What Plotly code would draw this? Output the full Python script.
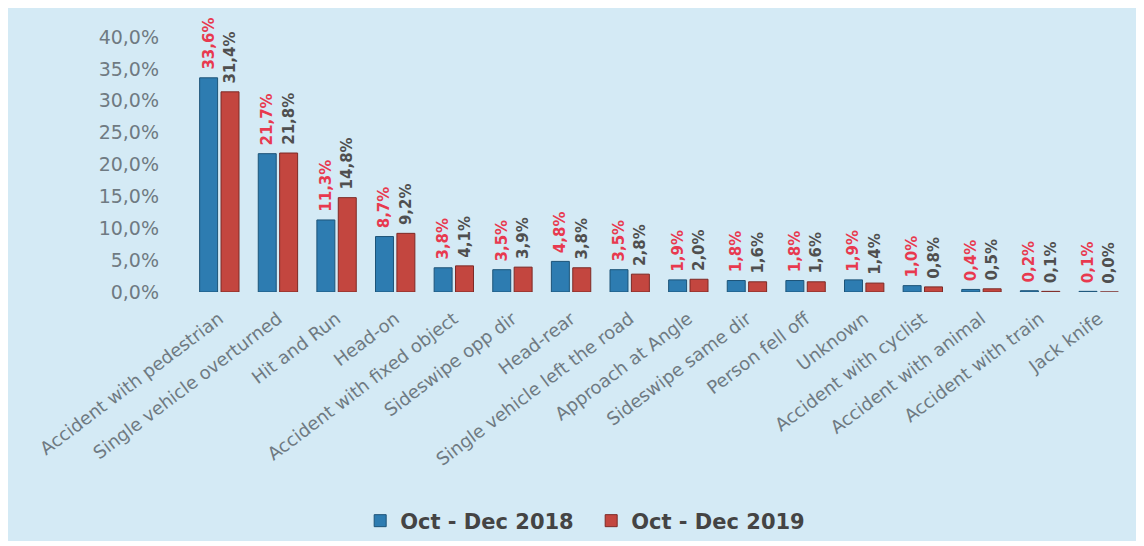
import plotly.graph_objects as go

categories = [
    "Accident with pedestrian", "Single vehicle overturned", "Hit and Run", "Head-on",
    "Accident with fixed object", "Sideswipe opp dir", "Head-rear",
    "Single vehicle left the road", "Approach at Angle", "Sideswipe same dir",
    "Person fell off", "Unknown", "Accident with cyclist", "Accident with animal",
    "Accident with train", "Jack knife",
]
values_2018 = [33.6, 21.7, 11.3, 8.7, 3.8, 3.5, 4.8, 3.5, 1.9, 1.8, 1.8, 1.9, 1.0, 0.4, 0.2, 0.1]
values_2019 = [31.4, 21.8, 14.8, 9.2, 4.1, 3.9, 3.8, 2.8, 2.0, 1.6, 1.6, 1.4, 0.8, 0.5, 0.1, 0.0]
series_names = ["Oct - Dec 2018", "Oct - Dec 2019"]
y_ticks = [0, 5, 10, 15, 20, 25, 30, 35, 40]
y_ticktext = [f"{v:.1f}%".replace(".", ",") for v in y_ticks]

# page has an 8px body margin; the figure itself is the light-blue panel
W, H = 1128, 533
ML, MR, MT, MB = 182, 8, 29, 249
PANEL_BG = "#d4eaf5"
TICK_GRAY = "#6f7a82"

fig = go.Figure()
fig.add_trace(go.Bar(
    x=categories, y=values_2018, name=series_names[0],
    marker=dict(color="#2d7cb1", line=dict(color="#1d5478", width=1)),
    texttemplate="\u00a0%{y:.1f}%", textposition="outside", textangle=-90,
    textfont=dict(family="DejaVu Sans", size=15, color="#e8394f", weight="bold"),
    cliponaxis=False, constraintext="none",
))
fig.add_trace(go.Bar(
    x=categories, y=values_2019, name=series_names[1],
    marker=dict(color="#c3463f", line=dict(color="#7d2a26", width=1)),
    texttemplate="\u00a0%{y:.1f}%", textposition="outside", textangle=-90,
    textfont=dict(family="DejaVu Sans", size=15, color="#4f4f4f", weight="bold"),
    cliponaxis=False, constraintext="none",
))

fig.update_layout(
    width=W, height=H,
    margin=dict(l=ML, r=MR, t=MT, b=MB, autoexpand=False),
    paper_bgcolor=PANEL_BG, plot_bgcolor=PANEL_BG,
    separators=",.",
    barmode="group", bargap=0.27, bargroupgap=0.16,
    font=dict(family="DejaVu Sans", color=TICK_GRAY),
    showlegend=True,
    legend=dict(orientation="h", xref="container", yref="container",
                x=0.517, y=0.0375, xanchor="center", yanchor="middle",
                font=dict(family="DejaVu Sans", size=21, color="#444444", weight="bold"),
                bgcolor="rgba(0,0,0,0)", itemwidth=30, entrywidth=186,
                traceorder="normal"),
    xaxis=dict(tickangle=-37, tickfont=dict(family="DejaVu Sans", size=18, color=TICK_GRAY),
               showgrid=False, showline=False, zeroline=False, ticks="",
               ticklabelstandoff=12),
    yaxis=dict(range=[0, 40], tickvals=y_ticks, ticktext=y_ticktext,
               tickfont=dict(family="DejaVu Sans", size=19, color=TICK_GRAY),
               showgrid=False, showline=False, zeroline=False, ticks="",
               ticklabelstandoff=30),
)

fig.write_html("out.html")
